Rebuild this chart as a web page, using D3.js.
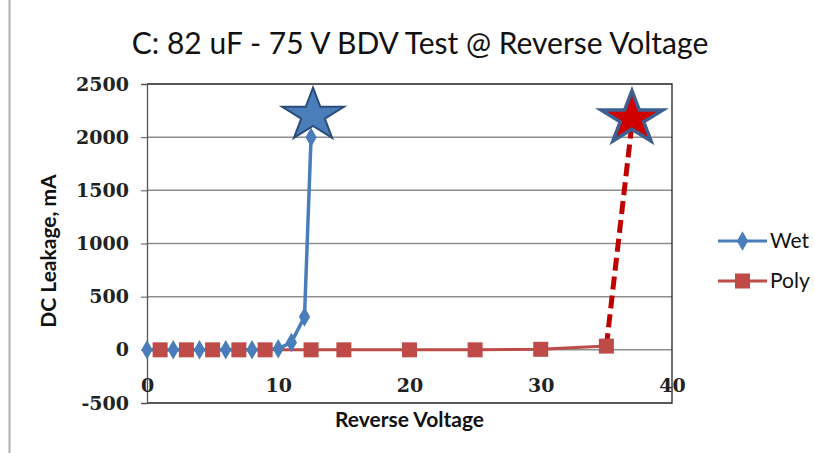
<!DOCTYPE html>
<html>
<head>
<meta charset="utf-8">
<script src="https://cdnjs.cloudflare.com/ajax/libs/d3/7.8.5/d3.min.js"></script>
<style>
  body { margin: 0; background: #fff; }
  svg { display: block; }
</style>
</head>
<body>
<div id="chart"></div>
<script>

// DATA

var wetX = [0, 2, 4, 6, 8, 10, 11, 12, 12.5]
var wetY = [0, 0, 0, 0, 0, 10, 70, 310, 2000]

// last poly point is the breakdown, drawn dashed and hidden under the star
var polyX = [1, 3, 5, 7, 9, 12.5, 15, 20, 25, 30, 35, 37]
var polyY = [0, 0, 0, 0, 0, 0, 0, 0, 0, 5, 35, 2180]

var starX = [12.65, 36.95]
var starY = [2205, 2175]

var xTicks = [0, 10, 20, 30, 40]
var yTicks = [-500, 0, 500, 1000, 1500, 2000, 2500]

var seriesNames = ["Wet", "Poly"]

// SET DIMENSIONS

var width = 815, height = 453
var plot = {left: 147, right: 672, top: 84, bottom: 403}

var svg = d3.select("#chart").append("svg")
    .attr("width", width)
    .attr("height", height)

var blue = "#4a7ebb"
var red = "#be4b48"

// SCALES

var scaleX = d3.scaleLinear()
    .domain([0, 40])
    .range([plot.left, plot.right])

var scaleY = d3.scaleLinear()
    .domain([-500, 2500])
    .range([plot.bottom, plot.top])

// chart area border on the left
svg.append("line")
    .attr("x1", 9.5).attr("x2", 9.5)
    .attr("y1", 0).attr("y2", height)
    .attr("stroke", "#b0b0b0")
    .attr("stroke-width", 2)

// GRIDLINES

svg.append("g")
    .selectAll("line")
    .data(yTicks.filter(t => t > -500 && t < 2500))
    .enter()
    .append("line")
    .attr("x1", plot.left).attr("x2", plot.right)
    .attr("y1", d => scaleY(d)).attr("y2", d => scaleY(d))
    .attr("stroke", "#8e8e8e")
    .attr("stroke-width", 1.5)

// plot border (top, right, bottom)
svg.append("path")
    .attr("d", "M" + plot.left + "," + plot.top + "H" + plot.right + "V" + plot.bottom + "H" + plot.left)
    .attr("fill", "none")
    .attr("stroke", "#222")
    .attr("stroke-width", 1.3)

// Y AXIS

var yAxis = svg.append("g")
    .attr("transform", "translate(" + plot.left + ",0)")
    .call(d3.axisLeft(scaleY).tickValues(yTicks).tickFormat(d => String(d)).tickSize(6).tickPadding(12))

yAxis.select(".domain").attr("stroke", "#555").attr("stroke-width", 1.3)
yAxis.selectAll(".tick line").attr("stroke", "#555")
yAxis.selectAll(".tick text")
    .style("font-family", "DejaVu Serif")
    .style("font-weight", "bold")
    .style("font-size", "19px")
    .attr("fill", "#222")

// X AXIS - labels sit between the zero line and the bottom

var xAxis = svg.append("g")
    .attr("transform", "translate(0," + scaleY(0) + ")")
    .call(d3.axisBottom(scaleX).tickValues(xTicks).tickFormat(d => String(d)).tickSize(0).tickPadding(29))

xAxis.select(".domain").remove()
xAxis.selectAll(".tick text")
    .style("font-family", "DejaVu Serif")
    .style("font-weight", "bold")
    .style("font-size", "19px")
    .attr("fill", "#222")

// LINES

var line = d3.line()
    .x(d => scaleX(d[0]))
    .y(d => scaleY(d[1]))

var wet = d3.zip(wetX, wetY)
var poly = d3.zip(polyX, polyY)

svg.append("path")
    .datum(poly.slice(0, -1))
    .attr("d", line)
    .attr("fill", "none")
    .attr("stroke", red)
    .attr("stroke-width", 3)

svg.append("path")
    .datum(poly.slice(-2))
    .attr("d", line)
    .attr("fill", "none")
    .attr("stroke", "#c00000")
    .attr("stroke-width", 5)
    .attr("stroke-dasharray", "13,6")

svg.append("path")
    .datum(wet)
    .attr("d", line)
    .attr("fill", "none")
    .attr("stroke", blue)
    .attr("stroke-width", 3.5)

// MARKERS

var diamond = d3.symbol().type(d3.symbolDiamond).size(110)

svg.selectAll(".sq")
    .data(poly.slice(0, -1))
    .enter()
    .append("rect")
    .attr("class", "sq")
    .attr("x", d => scaleX(d[0]) - 7.5)
    .attr("y", d => scaleY(d[1]) - 7.5)
    .attr("width", 15)
    .attr("height", 15)
    .attr("fill", red)

svg.selectAll(".dm")
    .data(wet)
    .enter()
    .append("path")
    .attr("class", "dm")
    .attr("transform", d => "translate(" + scaleX(d[0]) + "," + scaleY(d[1]) + ")")
    .attr("d", diamond)
    .attr("fill", blue)

// STARS

function starPath(rx, ry) {
  var pts = []
  for (var i = 0; i < 10; i++) {
    var a = -Math.PI / 2 + i * Math.PI / 5
    var r = i % 2 == 0 ? 1 : 0.382
    pts.push([rx * r * Math.cos(a), ry * r * Math.sin(a)])
  }
  return "M" + pts.join("L") + "Z"
}

var starFill = [blue, "#d00000"]
var starStroke = ["#2b4c78", "#3d6090"]
var starWidth = [2, 3.5]

svg.selectAll(".star")
    .data(d3.range(starX.length))
    .enter()
    .append("path")
    .attr("class", "star")
    .attr("transform", i => "translate(" + scaleX(starX[i]) + "," + scaleY(starY[i]) + ")")
    .attr("d", starPath(32.5, 27.8))
    .attr("fill", i => starFill[i])
    .attr("stroke", i => starStroke[i])
    .attr("stroke-width", i => starWidth[i])
    .attr("stroke-linejoin", "miter")

// TITLE

svg.append("text")
    .attr("x", 420)
    .attr("y", 54)
    .attr("text-anchor", "middle")
    .style("font-family", "Lato")
    .style("font-size", "30px")
    .attr("fill", "#111")
    .text("C: 82 uF - 75 V BDV Test @ Reverse Voltage")

// AXIS TITLES

svg.append("text")
    .attr("x", (plot.left + plot.right) / 2)
    .attr("y", 427)
    .attr("text-anchor", "middle")
    .style("font-family", "Lato")
    .style("font-weight", "bold")
    .style("font-size", "21px")
    .attr("fill", "#111")
    .text("Reverse Voltage")

svg.append("text")
    .attr("transform", "translate(56,251) rotate(-90)")
    .attr("text-anchor", "middle")
    .style("font-family", "Lato")
    .style("font-weight", "bold")
    .style("font-size", "21px")
    .attr("fill", "#111")
    .text("DC Leakage, mA")

// LEGEND

var legend = svg.selectAll(".legend")
    .data(seriesNames)
    .enter()
    .append("g")
    .attr("class", "legend")
    .attr("transform", (d, i) => "translate(718," + (241 + i * 40) + ")")

legend.append("line")
    .attr("x1", 0).attr("x2", 49)
    .attr("stroke", (d, i) => i == 0 ? blue : red)
    .attr("stroke-width", 3)

legend.filter((d, i) => i == 0).append("path")
    .attr("transform", "translate(24.5,0)")
    .attr("d", diamond)
    .attr("fill", blue)

legend.filter((d, i) => i == 1).append("rect")
    .attr("x", 17).attr("y", -7.5)
    .attr("width", 15).attr("height", 15)
    .attr("fill", red)

legend.append("text")
    .attr("x", 52)
    .attr("dy", "0.35em")
    .style("font-family", "Lato")
    .style("font-size", "21px")
    .attr("fill", "#111")
    .text(d => d)

</script>
</body>
</html>
